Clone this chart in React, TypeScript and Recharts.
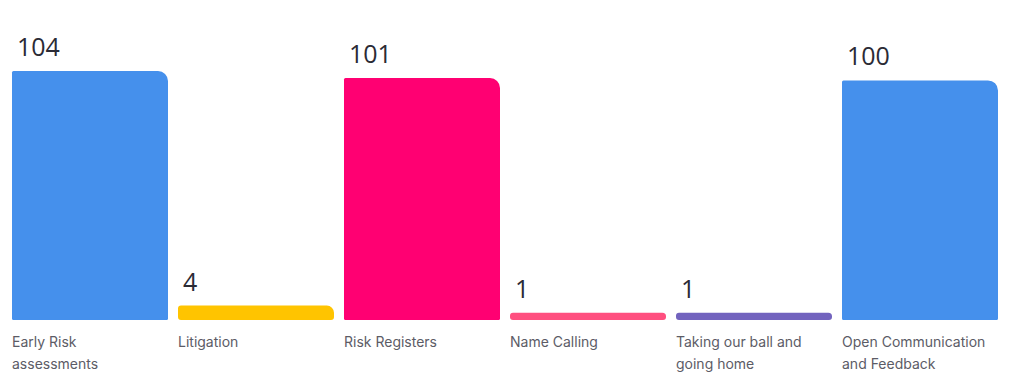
import { BarChart, Bar, XAxis, YAxis, Cell, LabelList } from "recharts";

// "\n" marks where the reference wraps the category text
const categories = [
  "Early Risk\nassessments",
  "Litigation",
  "Risk Registers",
  "Name Calling",
  "Taking our ball and\ngoing home",
  "Open Communication\nand Feedback",
];
const votes = [104, 4, 101, 1, 1, 100];
const colors = ["#4590ec", "#ffc400", "#ff0072", "#ff4f7f", "#7263be", "#4590ec"];

const data = categories.map((name, i) => ({ name, votes: votes[i] }));

const PAD = 5; // bars sit a little below the zero line

function RoundedBar(props: any) {
  const { x, y, width: w, fill } = props;
  const h = props.height + PAD;
  if (!w || h <= 0) return null;
  const tr = Math.min(10, h / 2);
  const o = h < 20 ? Math.min(3, h / 2) : 1.5;
  const d = [
    `M${x + o},${y}`,
    `L${x + w - tr},${y}`,
    `A${tr},${tr} 0 0 1 ${x + w},${y + tr}`,
    `L${x + w},${y + h - o}`,
    `A${o},${o} 0 0 1 ${x + w - o},${y + h}`,
    `L${x + o},${y + h}`,
    `A${o},${o} 0 0 1 ${x},${y + h - o}`,
    `L${x},${y + o}`,
    `A${o},${o} 0 0 1 ${x + o},${y}`,
    "Z",
  ].join(" ");
  return <path d={d} fill={fill} />;
}

function ValueLabel(props: any) {
  const { x, y, value } = props;
  return (
    <text x={x + 5} y={y - 15} fontSize={25} fill="#2b2b35" fontFamily="'Open Sans', sans-serif">
      {value}
    </text>
  );
}

function CategoryTick(props: any) {
  const { x, y, payload } = props;
  const lines = String(payload.value).split("\n");
  return (
    <text x={x - 78} y={y + 23.5} fontSize={14} fill="#5c5c66" fontFamily="Inter, sans-serif">
      {lines.map((line, i) => (
        <tspan key={i} x={x - 78} dy={i === 0 ? 0 : 22}>
          {line}
        </tspan>
      ))}
    </text>
  );
}

export default function App() {
  return (
    <div style={{ position: "absolute", left: 0, top: 0, background: "#fff" }}>
      <BarChart width={1024} height={381} data={data} margin={{ top: 71, right: 21, bottom: 0, left: 7 }}>
        <YAxis hide domain={[0, 104]} />
        <XAxis
          dataKey="name"
          height={66}
          axisLine={false}
          tickLine={false}
          tickSize={6}
          tickMargin={2}
          interval={0}
          tick={<CategoryTick />}
        />
        <Bar dataKey="votes" barSize={156} shape={<RoundedBar />} isAnimationActive={false}>
          {data.map((d, i) => (
            <Cell key={d.name} fill={colors[i]} />
          ))}
          <LabelList dataKey="votes" content={<ValueLabel />} />
        </Bar>
      </BarChart>
    </div>
  );
}
